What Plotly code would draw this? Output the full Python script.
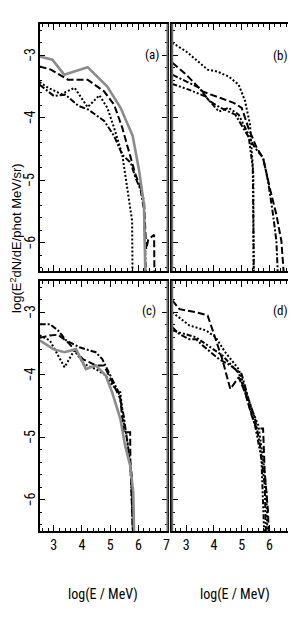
import plotly.graph_objects as go

# ---------------- data ----------------
# panel (a)
a_gray_x = [2.5, 2.95, 3.37, 4.2, 4.9, 5.37, 5.8, 6.03, 6.2, 6.27]
a_gray_y = [-3.02, -3.07, -3.31, -3.19, -3.5, -3.84, -4.29, -4.85, -5.39, -7.0]
a_dash_x = [2.5, 2.9, 3.5, 4.2, 4.79, 5.14, 5.43, 5.73, 5.9, 6.08, 6.2, 6.28, 6.35, 6.56, 6.58]
a_dash_y = [-3.18, -3.23, -3.39, -3.39, -3.58, -3.79, -4.16, -4.64, -4.91, -5.12, -5.33, -6.1, -5.95, -5.87, -7.0]
a_dot_x = [2.5, 2.8, 3.27, 3.74, 4.2, 4.62, 4.9, 5.14, 5.43, 5.6, 5.78, 5.8]
a_dot_y = [-3.43, -3.52, -3.62, -3.52, -3.83, -3.64, -3.84, -4.16, -4.59, -5.07, -5.65, -7.0]
a_dd_x = [2.5, 3.0, 3.41, 3.88, 4.23, 4.79, 5.14, 5.43, 5.73, 5.9, 6.08, 6.2, 6.3]
a_dd_y = [-3.47, -3.65, -3.63, -3.81, -3.87, -4.05, -4.29, -4.59, -4.72, -4.96, -5.15, -5.47, -7.0]

# panel (b)
b_dot_x = [2.5, 3.0, 3.35, 3.77, 4.12, 4.53, 4.89, 5.12, 5.3, 5.36, 5.42, 5.43]
b_dot_y = [-2.8, -2.94, -3.07, -3.23, -3.26, -3.34, -3.47, -3.73, -4.11, -4.48, -4.91, -7.0]
b_dash_x = [2.5, 3.0, 3.59, 4.18, 4.71, 5.0, 5.24, 5.54, 5.77, 6.01, 6.25, 6.43, 6.6]
b_dash_y = [-3.12, -3.31, -3.58, -3.68, -3.76, -3.84, -4.16, -4.48, -4.64, -5.12, -5.55, -5.97, -7.0]
b_dd_x = [2.5, 2.88, 3.47, 3.83, 4.24, 4.77, 5.12, 5.48, 5.77, 5.95, 6.13, 6.25, 6.35]
b_dd_y = [-3.31, -3.39, -3.52, -3.73, -3.84, -3.95, -4.21, -4.48, -4.64, -5.01, -5.55, -5.97, -7.0]
b_ddd_x = [2.5, 3.1, 3.7, 4.18, 4.53, 4.89, 5.24, 5.4, 5.45]
b_ddd_y = [-3.46, -3.55, -3.66, -3.9, -3.84, -3.95, -4.26, -4.8, -7.0]

# panel (c)
c_gray_x = [2.5, 2.98, 3.38, 3.79, 4.14, 4.49, 4.84, 5.07, 5.36, 5.53, 5.71, 5.82, 5.87]
c_gray_y = [-3.45, -3.59, -3.64, -3.59, -3.91, -3.85, -4.01, -4.28, -4.7, -5.13, -5.45, -5.88, -7.0]
c_dd_x = [2.5, 2.86, 3.15, 3.44, 3.91, 4.49, 4.72, 4.95, 5.3, 5.48, 5.65, 5.77, 5.82]
c_dd_y = [-3.19, -3.19, -3.29, -3.45, -3.56, -3.64, -3.75, -3.96, -4.28, -4.65, -5.18, -5.61, -7.0]
c_dash_x = [2.5, 2.86, 3.15, 3.5, 4.03, 4.49, 4.78, 5.07, 5.36, 5.48, 5.71, 5.72, 5.85]
c_dash_y = [-3.41, -3.37, -3.36, -3.48, -3.75, -3.85, -3.85, -4.12, -4.38, -4.92, -4.92, -5.45, -7.0]
c_dot_x = [2.5, 2.86, 3.38, 3.73, 4.08, 4.49, 4.84, 5.07, 5.36, 5.48, 5.6, 5.72, 5.85]
c_dot_y = [-3.37, -3.45, -3.88, -3.61, -3.83, -3.91, -4.01, -4.17, -4.28, -4.76, -5.02, -5.45, -7.0]

# panel (d)
d_dash_x = [2.5, 2.76, 3.35, 3.77, 3.94, 4.3, 4.59, 4.89, 5.12, 5.36, 5.54, 5.77, 5.83, 5.95, 6.0]
d_dash_y = [-2.81, -2.95, -3.0, -3.05, -3.27, -3.75, -4.23, -4.04, -4.28, -4.65, -4.86, -4.86, -5.56, -6.19, -7.0]
d_dot_x = [2.5, 3.11, 3.71, 4.06, 4.41, 4.89, 5.12, 5.36, 5.6, 5.77, 5.89, 5.95]
d_dot_y = [-3.0, -3.21, -3.29, -3.4, -3.64, -3.91, -4.23, -4.55, -4.81, -5.34, -5.88, -7.0]
d_dd_x = [2.5, 2.76, 3.11, 3.35, 3.59, 4.18, 4.59, 5.0, 5.24, 5.48, 5.66, 5.83, 5.9]
d_dd_y = [-3.24, -3.35, -3.43, -3.43, -3.53, -3.75, -3.85, -3.99, -4.38, -4.7, -5.13, -5.77, -7.0]
d_ddd_x = [2.5, 3.35, 4.3, 4.89, 5.12, 5.48, 5.71, 5.85]
d_ddd_y = [-3.29, -3.4, -3.69, -3.97, -4.28, -4.81, -5.34, -7.0]

x_ticks = [3, 4, 5, 6, 7]
y_ticks = [-6, -5, -4, -3]
panel_labels = ["(a)", "(b)", "(c)", "(d)"]
x_title = "log(E / MeV)"
y_title = "log(E<sup>2</sup>dN/dE/phot MeV/sr)"

# ---------------- styles ----------------
DASH = "7px,3px"
DOT = "2px,2px"
DASHDOT = "6px,2px,2px,2px"
DASHDOTDOT = "5px,2px,2px,2px,2px,2px"
GRAY = "#8c8c8c"
NARROW = "Liberation Sans Narrow, Arial Narrow, Roboto Condensed, sans-serif"

fig = go.Figure()

def add(x, y, ax, color="black", width=2.0, dash="solid"):
    xa = "x" if ax == 1 else f"x{ax}"
    ya = "y" if ax == 1 else f"y{ax}"
    fig.add_trace(go.Scatter(x=x, y=y, mode="lines", xaxis=xa, yaxis=ya,
                             line=dict(color=color, width=width, dash=dash),
                             showlegend=False, hoverinfo="skip"))

add(a_dot_x, a_dot_y, 1, dash=DOT)
add(a_dd_x, a_dd_y, 1, dash=DASHDOT)
add(a_dash_x, a_dash_y, 1, dash=DASH)
add(a_gray_x, a_gray_y, 1, color=GRAY, width=2.6)

add(b_dot_x, b_dot_y, 2, dash=DOT)
add(b_dash_x, b_dash_y, 2, dash=DASH)
add(b_dd_x, b_dd_y, 2, dash=DASHDOT)
add(b_ddd_x, b_ddd_y, 2, dash=DASHDOTDOT)

add(c_dot_x, c_dot_y, 3, dash=DOT)
add(c_dd_x, c_dd_y, 3, dash=DASHDOT)
add(c_dash_x, c_dash_y, 3, dash=DASH)
add(c_gray_x, c_gray_y, 3, color=GRAY, width=2.6)

add(d_dash_x, d_dash_y, 4, dash=DASH)
add(d_dot_x, d_dot_y, 4, dash=DOT)
add(d_dd_x, d_dd_y, 4, dash=DASHDOT)
add(d_ddd_x, d_ddd_y, 4, dash=DASHDOTDOT)

W, H = 296, 618
def px(x):
    return x / W
def py(y):
    return 1 - y / H

XL = (32, 161)
XR = (166, 293)
YT = (16, 263)
YB = (273, 523)
xdom_left = [px(XL[0]), px(XL[1])]
xdom_right = [px(XR[0]), px(XR[1])]
ydom_top = [py(YT[1]), py(YT[0])]
ydom_bot = [py(YB[1]), py(YB[0])]
X_RANGE = [2.5, 7.03]

tickfont = dict(family=NARROW, size=14, color="black")

def xaxis(domain, anchor, labels, ticktext):
    return dict(domain=domain, anchor=anchor, range=X_RANGE,
                tickmode="array", tickvals=x_ticks, ticktext=ticktext,
                ticks="inside", ticklen=6, tickwidth=1.2, tickcolor="black",
                minor=dict(dtick=0.2, tick0=0, ticks="inside", ticklen=3, tickwidth=1, tickcolor="black"),
                showline=True, linecolor="black", linewidth=1.6, mirror="ticks",
                showgrid=False, zeroline=False, showticklabels=labels,
                tickfont=tickfont)

def yaxis(domain, anchor, rng):
    return dict(domain=domain, anchor=anchor, range=rng,
                tickmode="array", tickvals=y_ticks,
                ticks="inside", ticklen=6, tickwidth=1.2, tickcolor="black",
                minor=dict(dtick=0.2, tick0=0, ticks="inside", ticklen=3, tickwidth=1, tickcolor="black"),
                showline=True, linecolor="black", linewidth=1.6, mirror="ticks",
                showgrid=False, zeroline=False, showticklabels=False)

full_text = [str(v) for v in x_ticks]
right_text = [str(v) for v in x_ticks[:-1]] + [""]

fig.update_layout(
    width=W, height=H,
    margin=dict(l=0, r=0, t=0, b=0),
    paper_bgcolor="white", plot_bgcolor="white",
    xaxis=xaxis(xdom_left, "y", False, full_text),
    yaxis=yaxis(ydom_top, "x", [-6.45, -2.5]),
    xaxis2=xaxis(xdom_right, "y2", False, full_text),
    yaxis2=yaxis(ydom_top, "x2", [-6.45, -2.5]),
    xaxis3=xaxis(xdom_left, "y3", True, full_text),
    yaxis3=yaxis(ydom_bot, "x3", [-6.5, -2.5]),
    xaxis4=xaxis(xdom_right, "y4", True, right_text),
    yaxis4=yaxis(ydom_bot, "x4", [-6.5, -2.5]),
)

# gray vertical frame edges (right edges and inner left edges look gray in the reference)
shapes = []
for xs in (XL[1], XR[0], XR[1]):
    for (y0, y1) in (YT, YB):
        shapes.append(dict(type="line", xref="paper", yref="paper",
                           x0=px(xs), x1=px(xs), y0=py(y0), y1=py(y1),
                           line=dict(color="#6e6e6e", width=1.8)))
fig.update_layout(shapes=shapes)

annots = []
# rotated y tick labels of the left-hand panels, placed on the axis scale
for yref in ("y", "y3"):
    for v in y_ticks:
        annots.append(dict(text="\u2212" + str(abs(v)), x=px(22), y=v, xref="paper", yref=yref,
                           showarrow=False, xanchor="center", yanchor="middle", textangle=-90,
                           font=tickfont))
label_pos = [(145, 46), (275, 47), (142, 302), (275, 302)]
for lab, (lx, ly) in zip(panel_labels, label_pos):
    annots.append(dict(text=lab, x=px(lx), y=py(ly), xref="paper", yref="paper",
                       showarrow=False, xanchor="center", yanchor="middle",
                       font=dict(family=NARROW, size=13, color="black")))
# last x tick label of the right panel, nudged inside the page as in the reference
annots.append(dict(text=str(x_ticks[-1]), x=px(288), y=py(538), xref="paper", yref="paper",
                   showarrow=False, xanchor="center", yanchor="middle",
                   font=tickfont))
for cx in (96, 229):
    annots.append(dict(text=x_title, x=px(cx), y=py(586), xref="paper", yref="paper",
                       showarrow=False, xanchor="center", yanchor="middle",
                       font=dict(family=NARROW, size=14, color="black")))
annots.append(dict(text=y_title, x=px(8), y=py(230), xref="paper", yref="paper",
                   showarrow=False, xanchor="center", yanchor="middle", textangle=-90,
                   font=dict(family="Liberation Sans, Arial, sans-serif", size=13, color="black")))
fig.update_layout(annotations=annots)

fig.write_html("out.html")
